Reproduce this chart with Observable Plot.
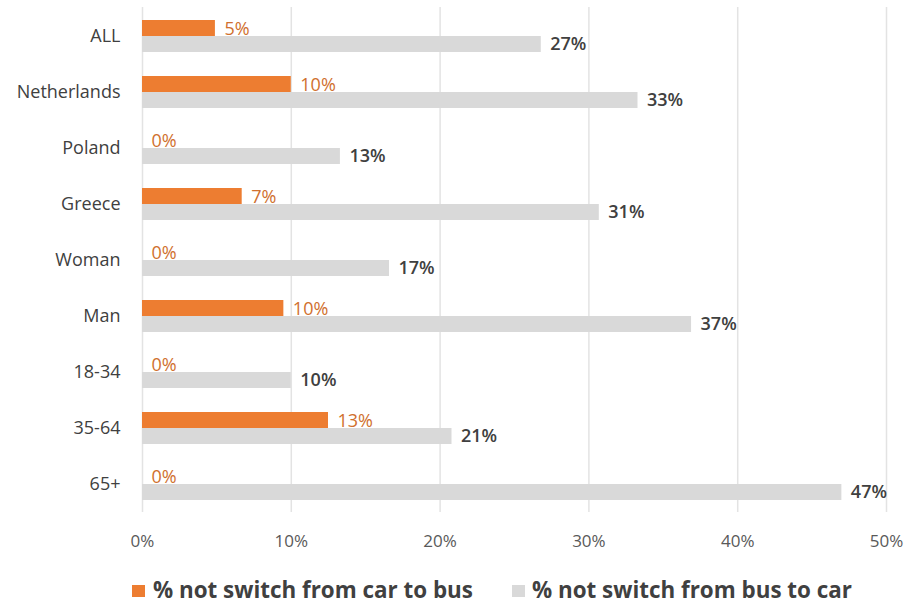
<!DOCTYPE html>
<html>
<head>
<meta charset="utf-8">
<script src="https://cdn.jsdelivr.net/npm/d3@7"></script>
<script src="https://cdn.jsdelivr.net/npm/@observablehq/plot@0.6"></script>
<style>
  html, body { margin: 0; padding: 0; background: #fff; }
  #wrap { position: relative; width: 906px; height: 605px; font-family: "Open Sans", sans-serif; }
  #legend { position: absolute; left: 0; top: 570px; width: 906px; height: 35px; }
  .sw { position: absolute; width: 13px; height: 12px; top: 15px; }
  .lt { position: absolute; top: 5px; font-size: 22.4px; font-weight: 700; color: #404040; line-height: 30px; white-space: nowrap; }
</style>
</head>
<body>
<div id="wrap">
  <div id="chart"></div>
  <div id="legend"></div>
</div>
<script>
const categories = ["ALL", "Netherlands", "Poland", "Greece", "Woman", "Man", "18-34", "35-64", "65+"];
const carToBus = [4.9, 10, 0, 6.7, 0, 9.5, 0, 12.5, 0];
const busToCar = [26.8, 33.3, 13.3, 30.7, 16.6, 36.9, 10, 20.8, 47];
const xTicks = [0, 10, 20, 30, 40, 50];
const seriesNames = ["% not switch from car to bus", "% not switch from bus to car"];
const seriesColors = ["#ED7D31", "#D9D9D9"];

const carRows = categories.map((c, i) => ({cat: c, v: carToBus[i]}));
const busRows = categories.map((c, i) => ({cat: c, v: busToCar[i]}));

const chart = Plot.plot({
  width: 906,
  height: 570,
  marginLeft: 142,
  marginRight: 20,
  marginTop: 7,
  marginBottom: 58,
  style: {fontFamily: "Open Sans", fontSize: "18px", color: "#404040", background: "#fff"},
  x: {domain: [0, 50]},
  y: {domain: categories, paddingInner: 0.43, paddingOuter: 0.215},
  marks: [
    Plot.gridX(xTicks, {stroke: "#e3e3e3", strokeOpacity: 1, strokeWidth: 1.5}),
    Plot.barX(carRows, {x: "v", y: "cat", fill: seriesColors[0], insetBottom: 16}),
    Plot.barX(busRows, {x: "v", y: "cat", fill: seriesColors[1], insetTop: 16}),
    Plot.text(carRows, {x: "v", y: "cat", text: d => Math.round(d.v) + "%", textAnchor: "start", dx: 9, dy: -7, fill: "#D0702E", fontSize: 18}),
    Plot.text(busRows, {x: "v", y: "cat", text: d => Math.round(d.v) + "%", textAnchor: "start", dx: 9, dy: 8, fill: "#404040", fontWeight: 600, fontSize: 18}),
    Plot.axisX({ticks: xTicks, tickFormat: d => d + "%", tickSize: 0, tickPadding: 22, fontSize: 17, fill: "#595959", label: null}),
    Plot.axisY({tickSize: 0, tickPadding: 22, fontSize: 18, fill: "#404040", label: null})
  ]
});
document.getElementById("chart").appendChild(chart);

const legend = document.getElementById("legend");
const swLeft = [132, 512];
const txLeft = [153, 532];
seriesNames.forEach((name, i) => {
  const sw = document.createElement("div");
  sw.className = "sw";
  sw.style.left = swLeft[i] + "px";
  sw.style.background = seriesColors[i];
  legend.appendChild(sw);
  const t = document.createElement("div");
  t.className = "lt";
  t.style.left = txLeft[i] + "px";
  t.textContent = name;
  legend.appendChild(t);
});
</script>
</body>
</html>
